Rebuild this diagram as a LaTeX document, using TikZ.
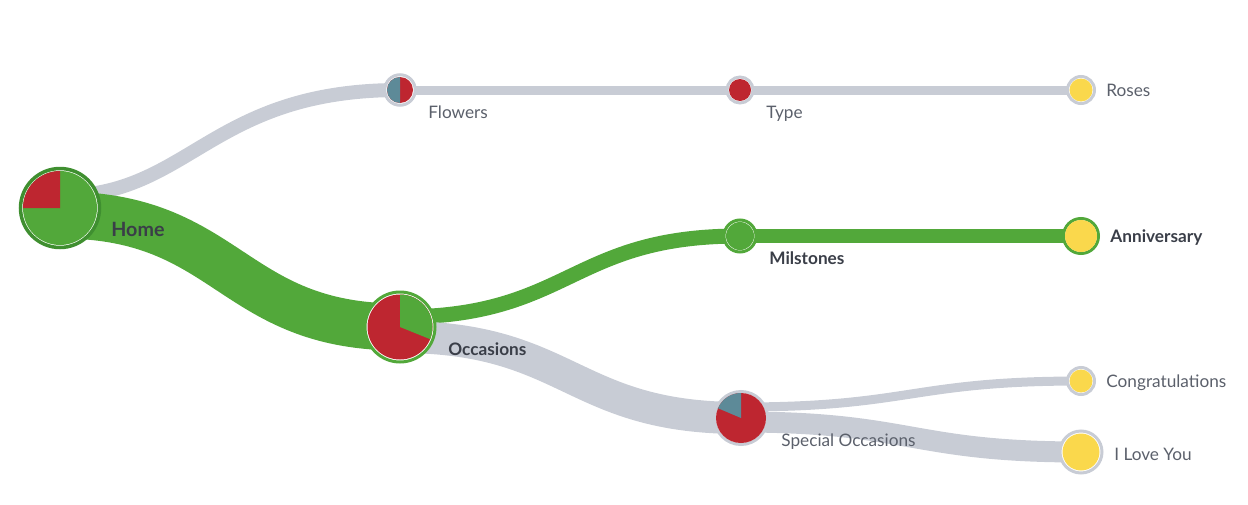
\documentclass[tikz,border=0pt]{standalone}
\usepackage{fontspec}
\setmainfont{Lato}
\usetikzlibrary{backgrounds}

\newdimen\pxu \pxu=0.02cm

\definecolor{pgreen}{HTML}{52A83A}
\definecolor{pdarkgreen}{HTML}{3F8F30}
\definecolor{pred}{HTML}{BE2630}
\definecolor{pteal}{HTML}{5D8A98}
\definecolor{pgray}{HTML}{C8CCD5}
\definecolor{pyellow}{HTML}{FAD84C}
\definecolor{txtdark}{HTML}{3A3E48}
\definecolor{txtgray}{HTML}{5B606B}

\tikzset{ring/.style = {shape = circle,
                        draw = pgray,
                        line width = 3\pxu,
                        fill = white,
                        inner sep = 0pt},
         greenring/.style = {ring, draw = pgreen},
         flow/.style = {draw = pgray},
         greenflow/.style = {draw = pgreen},
         lbl/.style = {anchor = west,
                       inner sep = 0pt,
                       text height = 0.72em,
                       text depth = 0pt,
                       text = txtgray,
                       font = \fontsize{9.8}{12}\selectfont},
         boldlbl/.style = {lbl,
                           text = txtdark,
                           font = \fontsize{9.8}{12}\selectfont\bfseries}}

\begin{document}
\begin{tikzpicture}[x=0.02cm, y=0.02cm]
		\useasboundingbox (0,0) rectangle (1248,-504);
		% nodes
		\node[greenring, draw = pdarkgreen, line width = 3.5\pxu, minimum size = 79\pxu] (home) at (60,-208) {};
		\node[greenring, minimum size = 70\pxu] (occasions) at (400,-327) {};
		\node[ring, minimum size = 30.5\pxu] (flowers) at (400,-90) {};
		\node[ring, minimum size = 26\pxu] (type) at (740,-90) {};
		\node[ring, minimum size = 27\pxu] (roses) at (1081,-90) {};
		\node[greenring, minimum size = 32\pxu] (milstones) at (740,-236) {};
		\node[greenring, minimum size = 35\pxu] (anniversary) at (1081,-236) {};
		\node[ring, minimum size = 53\pxu] (special) at (741,-418) {};
		\node[ring, minimum size = 27\pxu] (congrats) at (1081,-381) {};
		\node[ring, minimum size = 42\pxu] (iloveyou) at (1081,-452) {};
		% pies
		\fill[pgreen] (home.center) circle[radius = 37\pxu];
		\fill[pred] (home.center) -- ++(90:37\pxu) arc[start angle = 90, end angle = 180, radius = 37\pxu] -- cycle;
		\fill[pred] (occasions.center) circle[radius = 32.5\pxu];
		\fill[pgreen] (occasions.center) -- ++(-22:32.5\pxu) arc[start angle = -22, end angle = 90, radius = 32.5\pxu] -- cycle;
		\fill[pred] (flowers.center) circle[radius = 13\pxu];
		\fill[pteal] (flowers.center) -- ++(90:13\pxu) arc[start angle = 90, end angle = 270, radius = 13\pxu] -- cycle;
		\fill[pred] (special.center) circle[radius = 25\pxu];
		\fill[pteal] (special.center) -- ++(90:25\pxu) arc[start angle = 90, end angle = 157, radius = 25\pxu] -- cycle;
		\fill[pred] (type.center) circle[radius = 11\pxu];
		\fill[pyellow] (roses.center) circle[radius = 11.5\pxu];
		\fill[pgreen] (milstones.center) circle[radius = 14\pxu];
		\fill[pyellow] (anniversary.center) circle[radius = 16\pxu];
		\fill[pyellow] (congrats.center) circle[radius = 11.5\pxu];
		\fill[pyellow] (iloveyou.center) circle[radius = 18.5\pxu];
		% flows
		\begin{pgfonlayer}{background}
		\draw[flow, line width = 14\pxu] ([yshift = 12\pxu]home.center) .. controls +(130,0) and +(-190,0) .. (flowers.center);
		\draw[greenflow, line width = 47\pxu] ([yshift = -7\pxu]home.center) .. controls +(170,0) and +(-170,0) .. (occasions.center);
		\draw[flow, line width = 9\pxu] (flowers.center) -- (type.center);
		\draw[flow, line width = 9\pxu] (type.center) -- (roses.center);
		\draw[greenflow, line width = 15\pxu] ([yshift = 10\pxu]occasions.center) .. controls +(170,0) and +(-170,0) .. (milstones.center);
		\draw[greenflow, line width = 14\pxu] (milstones.center) -- (anniversary.center);
		\draw[flow, line width = 32\pxu] ([yshift = -10\pxu]occasions.center) .. controls +(170,0) and +(-170,0) .. (special.center);
		\draw[flow, line width = 9\pxu] ([yshift = 11\pxu]special.center) .. controls +(170,0) and +(-170,0) .. (congrats.center);
		\draw[flow, line width = 21\pxu] ([yshift = -4\pxu]special.center) .. controls +(170,0) and +(-170,0) .. (iloveyou.center);
		\end{pgfonlayer}
		% labels
		\node[boldlbl, font = \fontsize{11.2}{13}\selectfont\bfseries] (homelbl) at (111,-230) {Home};
		\node[boldlbl] (occasionslbl) at (448,-349) {Occasions};
		\node[boldlbl] (milstoneslbl) at (769,-258) {Milstones};
		\node[boldlbl] (anniversarylbl) at (1110,-236) {Anniversary};
		\node[lbl] (flowerslbl) at (428,-112) {Flowers};
		\node[lbl] (typelbl) at (766,-112) {Type};
		\node[lbl] (roseslbl) at (1106,-90) {Roses};
		\node[lbl] (speciallbl) at (781,-440) {Special Occasions};
		\node[lbl] (congratslbl) at (1106,-381) {Congratulations};
		\node[lbl] (iloveyoulbl) at (1114,-454) {I Love You};
	\end{tikzpicture}
\end{document}
